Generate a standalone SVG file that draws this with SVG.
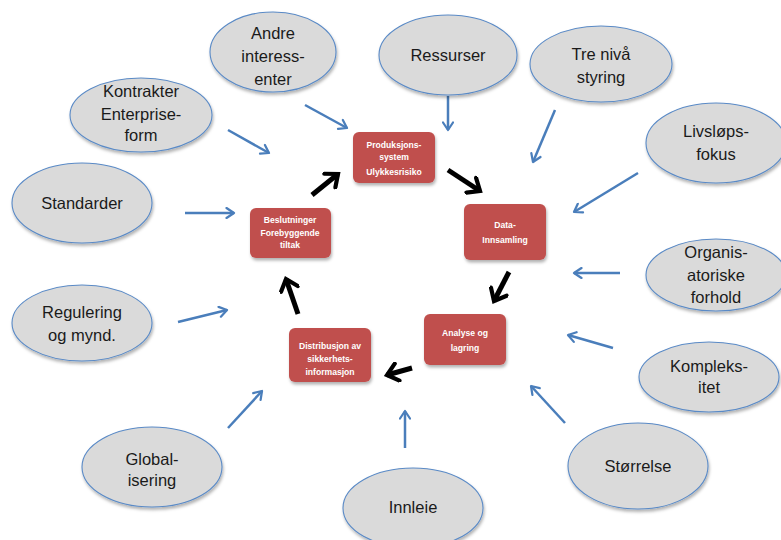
<svg xmlns="http://www.w3.org/2000/svg" width="781" height="540" viewBox="0 0 781 540">
<style>
.ell{fill:#dadada;stroke:#5a8ac6;stroke-width:1.1;filter:url(#sh)}
.et{font-family:"Liberation Sans",Arial,sans-serif;font-size:16.5px;fill:#1a1a1a;text-anchor:middle}
.box{fill:#c0504d;filter:url(#sh)}
.bt{font-family:"Liberation Sans",Arial,sans-serif;font-size:8.6px;font-weight:bold;fill:#ffffff;text-anchor:middle}
.blue{stroke:#4a7ebb;stroke-width:2.5;fill:none;marker-end:url(#bh)}
.blk{stroke:#000;stroke-width:5;fill:none;marker-end:url(#kh)}
</style>
<defs>
<filter id="sh" x="-20%" y="-20%" width="140%" height="150%">
<feDropShadow dx="1" dy="2.5" stdDeviation="1.5" flood-color="#000" flood-opacity="0.3"/>
</filter>
<marker id="bh" viewBox="0 0 10 10" refX="8" refY="5" markerWidth="5" markerHeight="5" orient="auto" markerUnits="strokeWidth">
<polyline points="2,1 8,5 2,9" fill="none" stroke="#4a7ebb" stroke-width="1.8" stroke-linecap="round" stroke-linejoin="round"/>
</marker>
<marker id="kh" viewBox="0 0 10 10" refX="8" refY="5" markerWidth="4.2" markerHeight="4.2" orient="auto" markerUnits="strokeWidth">
<polyline points="3,0.8 8,5 3,9.2" fill="none" stroke="#000" stroke-width="2" stroke-linecap="round" stroke-linejoin="miter"/>
</marker>
</defs>
<rect width="781" height="540" fill="#ffffff"/>

<g id="connectors">
<line class="blue" x1="305" y1="105" x2="347" y2="128"/>
<line class="blue" x1="448" y1="96" x2="448" y2="130"/>
<line class="blue" x1="555" y1="110" x2="533" y2="162"/>
<line class="blue" x1="638" y1="173" x2="574" y2="212"/>
<line class="blue" x1="620" y1="273" x2="574" y2="273"/>
<line class="blue" x1="613" y1="348" x2="568" y2="335"/>
<line class="blue" x1="565" y1="423" x2="531" y2="386"/>
<line class="blue" x1="405" y1="448" x2="405" y2="411"/>
<line class="blue" x1="228" y1="428" x2="262" y2="391"/>
<line class="blue" x1="178" y1="322" x2="227" y2="310"/>
<line class="blue" x1="185" y1="213" x2="234" y2="213"/>
<line class="blue" x1="228" y1="130" x2="269" y2="153"/>
<line class="blk" x1="312" y1="195" x2="338" y2="174"/>
<line class="blk" x1="448" y1="170" x2="480" y2="191"/>
<line class="blk" x1="509" y1="272" x2="494" y2="301"/>
<line class="blk" x1="412" y1="368" x2="387" y2="375"/>
<line class="blk" x1="298" y1="314" x2="286" y2="279"/>
</g>

<g id="n-andre"><ellipse class="ell" cx="273" cy="52" rx="63" ry="40"/>
<text class="et" x="273" y="39">Andre</text><text class="et" x="273" y="62">interess-</text><text class="et" x="273" y="85">enter</text></g>
<g id="n-ressurser"><ellipse class="ell" cx="448" cy="55" rx="69" ry="40"/>
<text class="et" x="448" y="61">Ressurser</text></g>
<g id="n-trenivaa"><ellipse class="ell" cx="601" cy="64" rx="71" ry="38"/>
<text class="et" x="601" y="60">Tre nivå</text><text class="et" x="601" y="83">styring</text></g>
<g id="n-livslop"><ellipse class="ell" cx="716" cy="143" rx="70" ry="40"/>
<text class="et" x="716" y="137">Livsløps-</text><text class="et" x="716" y="160">fokus</text></g>
<g id="n-organis"><ellipse class="ell" cx="716" cy="275" rx="70" ry="36"/>
<text class="et" x="716" y="258">Organis-</text><text class="et" x="716" y="281">atoriske</text><text class="et" x="716" y="303">forhold</text></g>
<g id="n-kompleks"><ellipse class="ell" cx="709" cy="377" rx="70" ry="35"/>
<text class="et" x="709" y="372">Kompleks-</text><text class="et" x="709" y="393">itet</text></g>
<g id="n-storrelse"><ellipse class="ell" cx="638" cy="466" rx="70" ry="43"/>
<text class="et" x="638" y="472">Størrelse</text></g>
<g id="n-innleie"><ellipse class="ell" cx="413" cy="508" rx="70" ry="40"/>
<text class="et" x="413" y="513">Innleie</text></g>
<g id="n-global"><ellipse class="ell" cx="152" cy="467" rx="70" ry="40"/>
<text class="et" x="152" y="465">Global-</text><text class="et" x="152" y="486">isering</text></g>
<g id="n-regulering"><ellipse class="ell" cx="82" cy="323" rx="70" ry="38"/>
<text class="et" x="82" y="318">Regulering</text><text class="et" x="82" y="341">og mynd.</text></g>
<g id="n-standarder"><ellipse class="ell" cx="82" cy="203" rx="70" ry="40"/>
<text class="et" x="82" y="209">Standarder</text></g>
<g id="n-kontrakter"><ellipse class="ell" cx="141" cy="115" rx="71" ry="37"/>
<text class="et" x="141" y="97">Kontrakter</text><text class="et" x="141" y="120">Enterprise-</text><text class="et" x="141" y="141">form</text></g>

<g id="b-produksjon"><rect class="box" x="353" y="132" width="82" height="51" rx="6"/>
<text class="bt" x="394" y="148">Produksjons-</text><text class="bt" x="394" y="160">system</text><text class="bt" x="394" y="175">Ulykkesrisiko</text></g>
<g id="b-data"><rect class="box" x="464" y="204" width="82" height="56" rx="6"/>
<text class="bt" x="505" y="228">Data-</text><text class="bt" x="505" y="243">Innsamling</text></g>
<g id="b-analyse"><rect class="box" x="424" y="314" width="82" height="51" rx="6"/>
<text class="bt" x="465" y="336">Analyse og</text><text class="bt" x="465" y="351">lagring</text></g>
<g id="b-distribusjon"><rect class="box" x="289" y="328" width="82" height="54" rx="6"/>
<text class="bt" x="330" y="349">Distribusjon av</text><text class="bt" x="330" y="362">sikkerhets-</text><text class="bt" x="330" y="375">informasjon</text></g>
<g id="b-beslutninger"><rect class="box" x="250" y="208" width="81" height="50" rx="6"/>
<text class="bt" x="290" y="223">Beslutninger</text><text class="bt" x="290" y="236">Forebyggende</text><text class="bt" x="290" y="248">tiltak</text></g>
</svg>
